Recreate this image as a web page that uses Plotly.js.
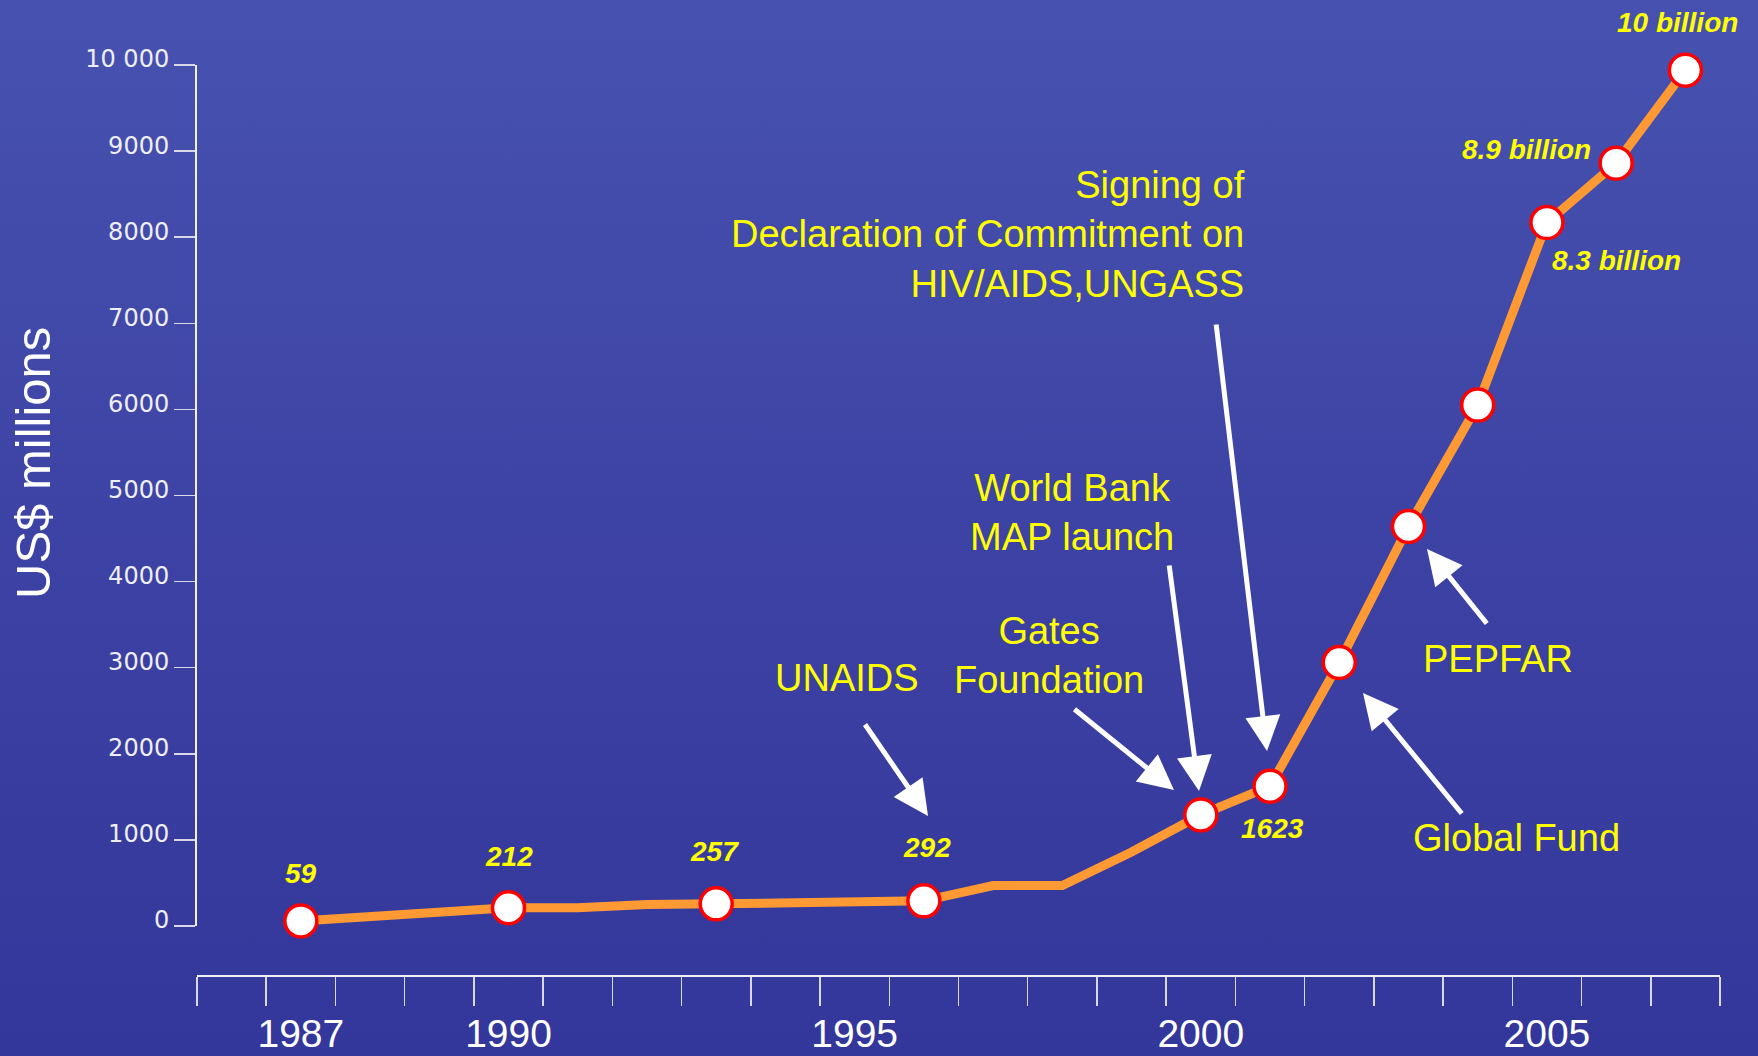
<!DOCTYPE html>
<html>
<head>
<meta charset="utf-8">
<script src="https://cdn.plot.ly/plotly-3.0.1.min.js"></script>
<style>
  html, body { margin:0; padding:0; width:1758px; height:1056px; overflow:hidden;
    background: linear-gradient(to bottom, #4752b0 0%, #3d43a4 50%, #33369a 100%); }
  #chart { width:1758px; height:1056px; }
</style>
</head>
<body>
<div id="chart"></div>
<script>
// ---- data ----
const years = [1987,1988,1989,1990,1991,1992,1993,1994,1995,1996,1997,1998,1999,2000,2001,2002,2003,2004,2005,2006,2007];
const spending = [59,110,160,212,212,250,257,268,280,292,470,470,860,1290,1623,3060,4640,6050,8170,8860,9940];
const markerYears = [1987,1990,1993,1996,2000,2001,2002,2003,2004,2005,2006,2007];
const labelYears = [1987,1990,1993,1996,2001,2005,2006,2007];
const labelTexts = ['59','212','257','292','1623','8.3 billion','8.9 billion','10 billion'];
const yTickVals = [0,1000,2000,3000,4000,5000,6000,7000,8000,9000,10000];
const yTickText = ['0','1000','2000','3000','4000','5000','6000','7000','8000','9000','10 000'];
const xLabelYears = [1987,1990,1995,2000,2005];
const yTitle = 'US$ millions';
const events = [
  {text:'UNAIDS', x:847, y:678, anchor:'center', tail:[864,723], head:[928,816]},
  {text:'Gates<br>Foundation', x:1049, y:655, anchor:'center', tail:[1073,708], head:[1174,790]},
  {text:'World Bank<br>MAP launch', x:1072, y:512, anchor:'center', tail:[1169,564], head:[1199,791]},
  {text:'Signing of<br>Declaration of Commitment on<br>HIV/AIDS,UNGASS', x:1247, y:234, anchor:'right', tail:[1216,323], head:[1267,751]},
  {text:'Global Fund', x:1516, y:838, anchor:'center', tail:[1463,815], head:[1363,693]},
  {text:'PEPFAR', x:1498, y:659, anchor:'center', tail:[1488,625], head:[1427,549]}
];
// label pixel offsets relative to their points
const labelShift = [[0,47],[0,51],[-2,52],[3,53],[2,-42],[70,-38],[-90,14],[-8,48]];

// ---- geometry of the plot area (pixels) ----
const L = 197, R = 1720, T = 65, B = 976, ZERO = 926;
const W = R - L, H = B - T;
const px = x => (x - L) / W;
const py = y => (B - y) / H;

const markerVals = markerYears.map(yr => spending[years.indexOf(yr)]);
const labelVals = labelYears.map(yr => spending[years.indexOf(yr)]);

const lineTrace = {
  x: years, y: spending, type:'scatter', mode:'lines',
  line:{color:'#ff9933', width:9}, hoverinfo:'skip', cliponaxis:false
};
const markerTrace = {
  x: markerYears, y: markerVals, type:'scatter', mode:'markers',
  marker:{size:32, color:'#ffffff', line:{color:'#ff0000', width:3.5}},
  hoverinfo:'skip', cliponaxis:false
};
const dummy = { x: xLabelYears, y: xLabelYears.map(()=>0), xaxis:'x2', type:'scatter', mode:'markers',
  marker:{opacity:0}, hoverinfo:'skip' };

const annotations = [];
labelYears.forEach((yr,i) => {
  annotations.push({
    x: yr, y: labelVals[i], xref:'x', yref:'y', text: labelTexts[i], showarrow:false,
    xshift: labelShift[i][0], yshift: labelShift[i][1],
    font:{family:'Liberation Sans, Arial, sans-serif', size:28, color:'#ffff00', weight:'bold', style:'italic'},
    xanchor:'center', yanchor:'middle'
  });
});
events.forEach(ev => {
  annotations.push({
    x: px(ev.x), y: py(ev.y), xref:'paper', yref:'paper', text: ev.text, showarrow:false,
    xanchor: ev.anchor, yanchor:'middle', align: ev.anchor === 'right' ? 'right' : 'center',
    font:{family:'Liberation Sans, Arial, sans-serif', size:38, color:'#ffff00'}
  });
  annotations.push({
    x: px(ev.head[0]), y: py(ev.head[1]), xref:'paper', yref:'paper', text:'',
    showarrow:true, arrowhead:2, arrowsize:1.4, arrowwidth:5, arrowcolor:'#ffffff',
    ax: ev.tail[0] - ev.head[0], ay: ev.tail[1] - ev.head[1], standoff:0, startstandoff:0
  });
});
// y-axis title, placed as in the reference
annotations.push({
  x: px(33), y: py(463), xref:'paper', yref:'paper', text: yTitle, showarrow:false,
  textangle:-90, xanchor:'center', yanchor:'middle',
  font:{family:'Liberation Sans, Arial, sans-serif', size:49, color:'#ffffff'}
});

const layout = {
  width:1758, height:1056,
  margin:{l:L, r:1758-R, t:T, b:1056-B, pad:0},
  paper_bgcolor:'rgba(0,0,0,0)', plot_bgcolor:'rgba(0,0,0,0)',
  showlegend:false,
  xaxis:{
    range:[1985.5,2007.5], tickmode:'array',
    tickvals: Array.from({length:23}, (_,i)=>1985.5+i),
    ticktext: Array.from({length:23}, ()=>''),
    ticks:'outside', ticklen:29, tickwidth:1.5, tickcolor:'#d8d8e8',
    showline:true, linecolor:'#f0f0f8', linewidth:2,
    showgrid:false, zeroline:false, anchor:'free', position:0, fixedrange:true
  },
  xaxis2:{
    range:[1985.5,2007.5], overlaying:'x', anchor:'free', position:0, side:'bottom',
    tickmode:'array', tickvals: xLabelYears, ticktext: xLabelYears.map(String),
    ticks:'outside', ticklen:23, tickcolor:'rgba(0,0,0,0)',
    showline:false, showgrid:false, zeroline:false,
    tickfont:{family:'Liberation Sans, Arial, sans-serif', size:39, color:'#ffffff'}
  },
  yaxis:{
    domain:[(B-ZERO)/H, 1], range:[0,10000],
    tickmode:'array', tickvals: yTickVals, ticktext: yTickText,
    ticks:'outside', ticklen:21, tickwidth:1.5, tickcolor:'#d8d8e8',
    showline:true, linecolor:'#f0f0f8', linewidth:2,
    showgrid:false, zeroline:false,
    tickfont:{family:'DejaVu Sans, sans-serif', size:24, color:'#eeeef6'},
    ticklabelshift:-6, ticklabelstandoff:0
  },
  annotations: annotations
};

Plotly.newPlot('chart', [lineTrace, markerTrace, dummy], layout, {staticPlot:true, displayModeBar:false});
</script>
</body>
</html>
